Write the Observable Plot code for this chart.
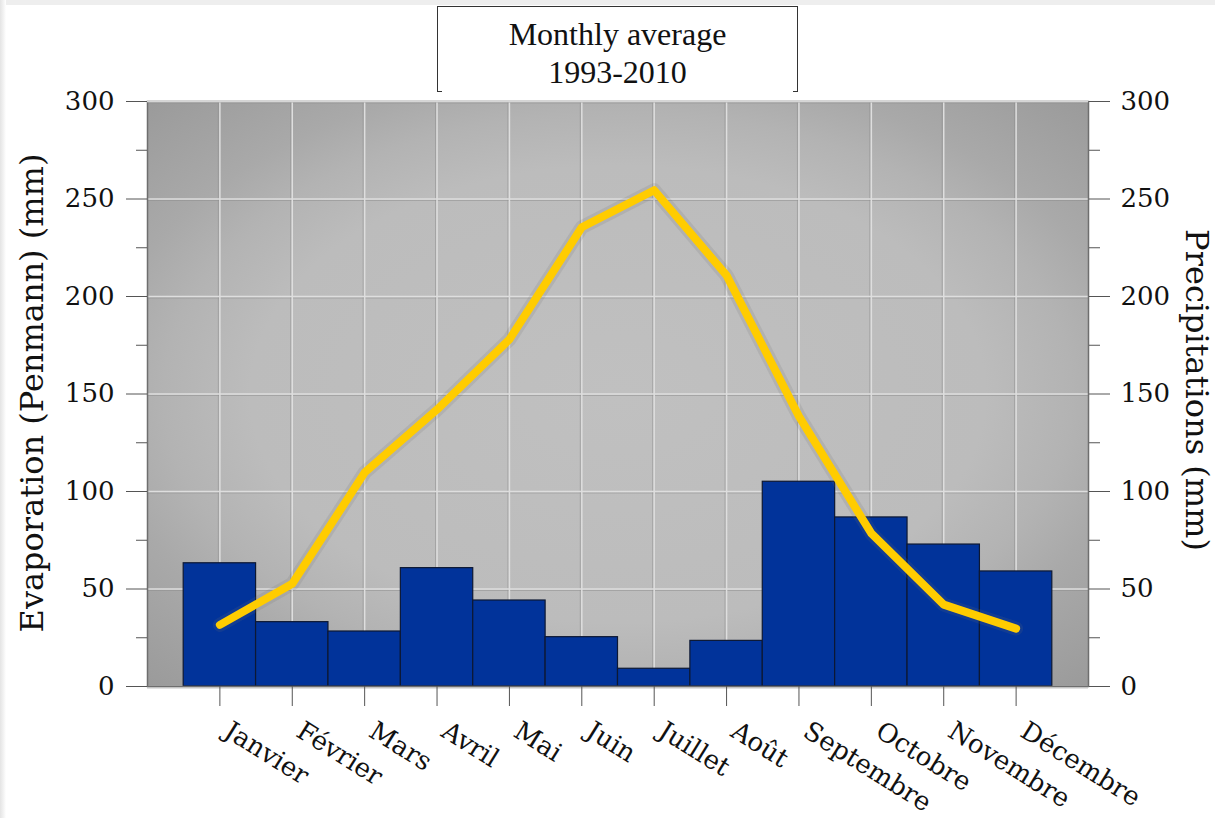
<!DOCTYPE html>
<html>
<head>
<meta charset="utf-8">
<script src="https://cdn.jsdelivr.net/npm/d3@7"></script>
<script src="https://cdn.jsdelivr.net/npm/@observablehq/plot@0.6"></script>
<style>
  html, body { margin: 0; padding: 0; background: #ffffff; }
  body { width: 1215px; height: 818px; overflow: hidden; position: relative; }
  #edgeTop { position: absolute; left: 0; top: 0; width: 1215px; height: 5px; background: #eeeeee; }
  #edgeLeft { position: absolute; left: 0; top: 0; width: 6px; height: 818px;
              background: linear-gradient(to right, #e4e4e4, #f6f6f6 70%, #ffffff); }
  #chart { position: absolute; left: 0; top: 0; }
  #title {
    position: absolute; left: 437px; top: 6px; width: 361px; height: 86px;
    box-sizing: border-box; border: 1px solid #333; border-bottom: none;
    font-family: "Liberation Serif", serif; font-size: 32px; line-height: 38px;
    text-align: center; padding-top: 8px; color: #111;
  }
  #title::before, #title::after {
    content: ""; position: absolute; bottom: 0; width: 4px; height: 1px; background: #333;
  }
  #title::before { left: 0; }
  #title::after { right: 0; }
</style>
</head>
<body>
<div id="edgeTop"></div>
<div id="edgeLeft"></div>
<div id="chart"></div>
<div id="title">Monthly average<br>1993-2010</div>
<script>
// Monthly averages, 1993-2010
const months = ["Janvier", "Février", "Mars", "Avril", "Mai", "Juin",
                "Juillet", "Août", "Septembre", "Octobre", "Novembre", "Décembre"];
const precipitation = [63.2, 33.0, 28.2, 60.7, 44.1, 25.3, 9.1, 23.4, 105.0, 86.7, 72.8, 59.0];
const evaporation = [31.6, 52.7, 109.7, 142.0, 178.0, 235.5, 254.5, 210.8, 138.5, 78.5, 42.0, 29.7];
const yTicks = [0, 50, 100, 150, 200, 250, 300];
const yMinorTicks = [25, 75, 125, 175, 225, 275];

const data = months.map((month, i) => ({
  month,
  precipitation: precipitation[i],
  evaporation: evaporation[i]
}));

const gridLight = { stroke: "#dedede", strokeOpacity: 1, strokeWidth: 1.5 };
const gridShade = { stroke: "#8c8c8c", strokeOpacity: 0.5, strokeWidth: 1 };

const chart = Plot.plot({
  width: 1215,
  height: 818,
  marginTop: 101,
  marginBottom: 132,
  marginLeft: 147,
  marginRight: 127,
  style: { fontFamily: "DejaVu Serif", fontSize: "26px", color: "#111", background: "transparent", overflow: "visible" },
  x: { type: "band", domain: months, paddingInner: 0, paddingOuter: 0.5, round: false, label: null },
  y: { domain: [0, 300], label: null },
  marks: [
    Plot.frame({ fill: "url(#plotBg)", stroke: null }),
    // embossed grid: thin shade beside a light line
    Plot.gridX({ ...gridShade, dx: -1.5 }),
    Plot.gridY(yTicks, { ...gridShade, dy: 1.5 }),
    Plot.gridX(gridLight),
    Plot.gridY(yTicks, gridLight),
    Plot.barY(data, { x: "month", y: "precipitation", fill: "#01339a", stroke: "#0d1833", strokeWidth: 1.2 }),
    // faint grey halo under the evaporation curve
    Plot.line(data, { x: "month", y: "evaporation", stroke: "#6f6f6f", strokeOpacity: 0.16, strokeWidth: 14, strokeLinejoin: "round" }),
    Plot.line(data, { x: "month", y: "evaporation", stroke: "#ffcc00", strokeWidth: 8, strokeLinecap: "round", strokeLinejoin: "round" }),
    Plot.frame({ stroke: "#6e6e6e", strokeWidth: 1.5 }),
    Plot.ruleY([300], { stroke: "#d6d6d6", strokeWidth: 1.5 }),
    Plot.axisY(yTicks, { anchor: "left", tickSize: 21, tickPadding: 12, stroke: "#555", label: null }),
    Plot.axisY(yMinorTicks, { anchor: "left", tickSize: 11, stroke: "#555", tickFormat: () => "", label: null }),
    Plot.axisY(yTicks, { anchor: "right", tickSize: 21, tickPadding: 11, stroke: "#555", label: null }),
    Plot.axisY(yMinorTicks, { anchor: "right", tickSize: 11, stroke: "#555", tickFormat: () => "", label: null }),
    Plot.axisX({ anchor: "bottom", tickSize: 20, tickPadding: 14, tickRotate: 32, stroke: "#555", label: null }),
  ]
});

document.getElementById("chart").appendChild(chart);

// shift the rotated month labels so they start just right of and below each tick
d3.select(chart).selectAll("g[aria-label='x-axis tick label'] text")
  .attr("transform", function () {
    return "translate(7,8) " + (this.getAttribute("transform") || "");
  });

// plot-area background: soft grey vignette
const svg = d3.select(chart);
const defs = svg.insert("defs", ":first-child");
const grad = defs.append("radialGradient")
  .attr("id", "plotBg").attr("cx", "50%").attr("cy", "50%").attr("r", "71%");
[[0, "#c0c0c0"], [0.55, "#bcbcbc"], [0.68, "#b3b3b3"], [0.78, "#a9a9a9"], [1, "#9a9a9a"]].forEach(([o, c]) =>
  grad.append("stop").attr("offset", o).attr("stop-color", c));

// axis titles
svg.append("text")
  .attr("transform", "translate(43,393) rotate(-90)")
  .attr("text-anchor", "middle")
  .attr("font-family", "DejaVu Serif").attr("font-size", 32).attr("fill", "#111")
  .text("Evaporation (Penmann) (mm)");
svg.append("text")
  .attr("transform", "translate(1186,390) rotate(90)")
  .attr("text-anchor", "middle")
  .attr("font-family", "DejaVu Serif").attr("font-size", 32).attr("fill", "#111")
  .text("Precipitations (mm)");
</script>
</body>
</html>
